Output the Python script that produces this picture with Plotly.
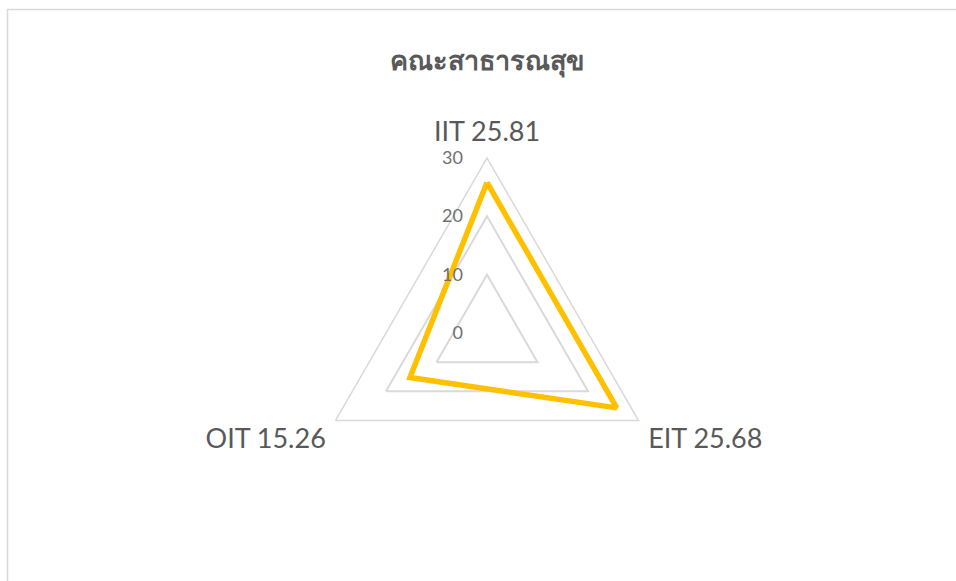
import plotly.graph_objects as go

title_text = "คณะสาธารณสุข"
categories = ["IIT", "EIT", "OIT"]
values = [25.81, 25.68, 15.26]
radial_ticks = [0, 10, 20, 30]

labels = [f"{c} {v:.2f}" for c, v in zip(categories, values)]
pad = '<span style="color:rgba(255,255,255,0)">00</span>'
radial_text = [f"{t}{pad}" for t in radial_ticks]

W, H = 956, 581
cx, cy, R = 487, 333, 175

fig = go.Figure()
fig.add_trace(go.Scatterpolar(
    r=values + values[:1],
    theta=labels + labels[:1],
    mode="lines",
    line=dict(color="#FFC000", width=5.5),
    hoverinfo="skip",
    showlegend=False,
))

fig.update_layout(
    width=W, height=H,
    margin=dict(l=0, r=0, t=0, b=0),
    paper_bgcolor="white",
    plot_bgcolor="white",
    font=dict(family="Lato, 'Noto Sans', sans-serif", color="#595959"),
    title=dict(text="<b>" + title_text + "</b>", x=cx / W, xanchor="center",
               y=1 - 61 / H, yanchor="middle",
               font=dict(size=27, color="#595959")),
    polar=dict(
        domain=dict(x=[(cx - R) / W, (cx + R) / W], y=[(H - cy - R) / H, (H - cy + R) / H]),
        gridshape="linear",
        bgcolor="white",
        angularaxis=dict(
            direction="clockwise", rotation=90,
            showgrid=False, showline=True, linecolor="#d9d9d9", linewidth=1.5,
            ticks="outside", ticklen=5, tickcolor="rgba(0,0,0,0)",
            tickfont=dict(size=27, color="#595959"),
        ),
        radialaxis=dict(
            range=[0, 30], tickvals=radial_ticks, ticktext=radial_text,
            angle=90, tickangle=90,
            showline=False, showgrid=True, gridcolor="#d9d9d9", gridwidth=1.5,
            ticks="", tickfont=dict(size=18, color="#707070"),
            side="counterclockwise",
        ),
    ),
    shapes=[dict(type="rect", xref="paper", yref="paper",
                 x0=7.5 / W, x1=1.05, y0=-0.05, y1=1 - 9.5 / H,
                 line=dict(color="#d9d9d9", width=1.5))],
)

fig.write_html("out.html", config={"displayModeBar": False})

with open("out.html", "r", encoding="utf-8") as f:
    html = f.read()
html = html.replace("<head>", "<head><style>html,body{margin:0;padding:0;overflow:hidden;}</style>", 1)
with open("out.html", "w", encoding="utf-8") as f:
    f.write(html)
